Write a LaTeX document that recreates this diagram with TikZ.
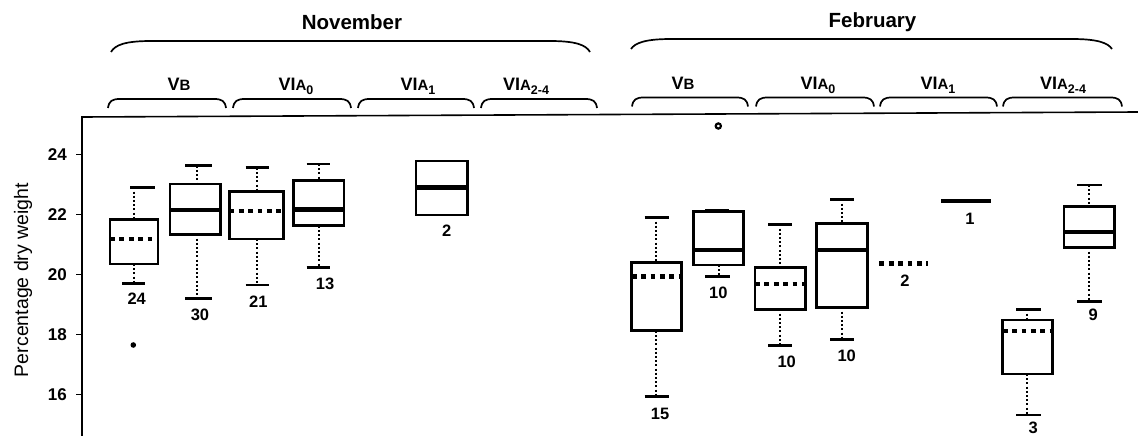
\documentclass[tikz,border=0pt]{standalone}
\usepackage{fontspec}
\setmainfont{Liberation Sans}
\newcommand\smcap[1]{{\fontsize{15}{15}\selectfont #1}}
\newcommand\lowsub[1]{\raisebox{-4.5pt}{\fontsize{12.5}{12.5}\selectfont #1}}
\tikzset{
  boxline/.style={line width=2.8pt},
  medsolid/.style={line width=4.4pt},
  meddot/.style={line width=4.8pt, dash pattern=on 4.8pt off 4.6pt},
  whisk/.style={line width=2pt, dash pattern=on 2pt off 2.2pt},
  capline/.style={line width=2.8pt},
  bracel/.style={line width=1.7pt},
  framel/.style={line width=1.6pt},
  cnt/.style={font=\bfseries\fontsize{16.5}{16.5}\selectfont, inner sep=0pt, anchor=base},
  grp/.style={font=\bfseries\fontsize{18}{18}\selectfont, inner sep=0pt, anchor=base},
  month/.style={font=\bfseries\fontsize{20.5}{20.5}\selectfont, inner sep=0pt, anchor=base},
  ticklab/.style={font=\bfseries\fontsize{17}{17}\selectfont, inner sep=0pt, anchor=east}
}
\newcommand\subbrace[4]{% x1 x2 ytop ybottom
  \draw[bracel] (#1,#4) .. controls (#1+1,#3+2) and (#1+4,#3) .. (#1+12,#3) -- (#2-12,#3) .. controls (#2-4,#3) and (#2-1,#3+2) .. (#2,#4);}
\newcommand\bigbrace[4]{%
  \draw[bracel] (#1,#4) .. controls (#1+4,#3+4) and (#1+14,#3) .. (#1+40,#3) -- (#2-40,#3) .. controls (#2-14,#3) and (#2-4,#3+4) .. (#2,#4);}
% whiskered box: xl xr top bottom whiskerx topcapy botcapy capx1 capx2
\newcommand\wbox[9]{%
  \draw[whisk] (#5,#6) -- (#5,#3);
  \draw[whisk] (#5,#4) -- (#5,#7);
  \draw[capline] (#8,#6) -- (#9,#6);
  \draw[capline] (#8,#7) -- (#9,#7);
  \draw[boxline] (#1,#3) rectangle (#2,#4);}
\begin{document}
\begin{tikzpicture}[x=1pt,y=-1pt]
\useasboundingbox (0,0) rectangle (1138,436);
% frame
\draw[framel] (82,436) -- (82,117) -- (1138,112);
% ticks
\foreach \v/\y in {24/154.3,22/214.3,20/274.3,18/334.3,16/394.3}{
  \draw[line width=1.3pt] (76,\y) -- (82,\y);
  \node[ticklab] (t\v) at (67,\y) {\v};
}
\node[font=\fontsize{19.5}{19.5}\selectfont, rotate=90, inner sep=0pt] (ylab) at (23,280) {Percentage dry weight};
% braces
\bigbrace{111}{590}{41}{52}
\bigbrace{631}{1112}{39}{49}
\node[month] (nov) at (352,29.3) {November};
\node[month] (feb) at (872.5,28) {February};
\subbrace{108}{226}{99}{108}
\subbrace{233}{351}{99}{108}
\subbrace{358}{474}{99}{108}
\subbrace{481}{597}{99}{108}
\subbrace{632}{748}{97.5}{106.5}
\subbrace{756}{874}{97.5}{106.5}
\subbrace{880}{997}{97.5}{106.5}
\subbrace{1003}{1122}{97.5}{106.5}
\node[grp] (g1) at (179,90) {V\smcap{B}};
\node[grp] (g2) at (296,90) {VI\smcap{A}\lowsub{0}};
\node[grp] (g3) at (418,90) {VI\smcap{A}\lowsub{1}};
\node[grp] (g4) at (526,90) {VI\smcap{A}\lowsub{2-4}};
\node[grp] (g5) at (683,89) {V\smcap{B}};
\node[grp] (g6) at (818,89) {VI\smcap{A}\lowsub{0}};
\node[grp] (g7) at (938,89) {VI\smcap{A}\lowsub{1}};
\node[grp] (g8) at (1063,89) {VI\smcap{A}\lowsub{2-4}};
% November boxes
\draw[whisk] (133.5,187.3) -- (133.5,219.5);
\draw[whisk] (133.5,264) -- (133.5,283.3);
\draw[capline] (130,187.3) -- (155,187.3);
\draw[capline] (122,283.3) -- (145,283.3);
\draw[boxline] (110,219.5) rectangle (158,264);
\draw[meddot] (110,239) -- (158,239);
\fill (133.3,345) circle (2.8);
\node[cnt] (n1) at (136.7,304) {24};

\wbox{170}{220.7}{184}{234.3}{196.7}{165.7}{298.3}{185}{212}
\draw[medsolid] (170,210) -- (220.7,210);
\node[cnt] (n2) at (200,320) {30};

\wbox{229.3}{283.3}{191.7}{239}{257.3}{167.7}{285}{245.5}{269.3}
\draw[meddot] (229.3,211) -- (283.3,211);
\node[cnt] (n3) at (258.3,307) {21};

\wbox{293.3}{344}{180.7}{225.7}{319.3}{164}{267.3}{306.5}{330}
\draw[medsolid] (293.3,209.3) -- (344,209.3);
\node[cnt] (n4) at (325,289.3) {13};

\draw[boxline] (416,161) rectangle (467.7,215);
\draw[medsolid] (416,187.3) -- (467.7,187.3);
\node[cnt] (n5) at (446.7,236) {2};

% February boxes
\wbox{631.7}{681.7}{262.3}{330.7}{656}{217.3}{396.7}{644.5}{669.3}
\draw[meddot] (631.7,276.7) -- (681.7,276.7);
\node[cnt] (n6) at (660,419.3) {15};

\draw[whisk] (719.3,265) -- (719.3,276.7);
\draw[capline] (705,276.7) -- (730,276.7);
\draw[capline] (705,210.3) -- (729,210.3);
\draw[boxline] (693.3,211.7) rectangle (743.3,265);
\draw[medsolid] (693.3,250) -- (743.3,250);
\draw[line width=2.2pt, fill=white] (718.3,126) circle (2.6);
\node[cnt] (n7) at (718.3,298.7) {10};

\wbox{755}{805.7}{267.3}{309.3}{780}{224.3}{345.7}{768.3}{791.7}
\draw[meddot] (755,284) -- (805.7,284);
\node[cnt] (n8) at (786.7,367.7) {10};

\wbox{816.7}{867.3}{223.3}{307.3}{841.7}{199.3}{339.3}{830}{854}
\draw[medsolid] (816.7,250) -- (867.3,250);
\node[cnt] (n9) at (846.7,361) {10};

\draw[meddot] (879.3,263.3) -- (928,263.3);
\node[cnt] (n10) at (905,286) {2};

\draw[medsolid] (941,200.7) -- (990.7,200.7);
\node[cnt] (n11) at (970,224.3) {1};

\wbox{1002.7}{1052.7}{320}{374}{1027.3}{309.3}{415}{1016}{1040.7}
\draw[meddot] (1002.7,331) -- (1052.7,331);
\node[cnt] (n12) at (1033.3,433.5) {3};

\wbox{1064}{1114.3}{206.7}{247.3}{1089.3}{185}{301.7}{1077.3}{1102}
\draw[medsolid] (1064,231.7) -- (1114.3,231.7);
\node[cnt] (n13) at (1093.3,320) {9};
\end{tikzpicture}
\end{document}
